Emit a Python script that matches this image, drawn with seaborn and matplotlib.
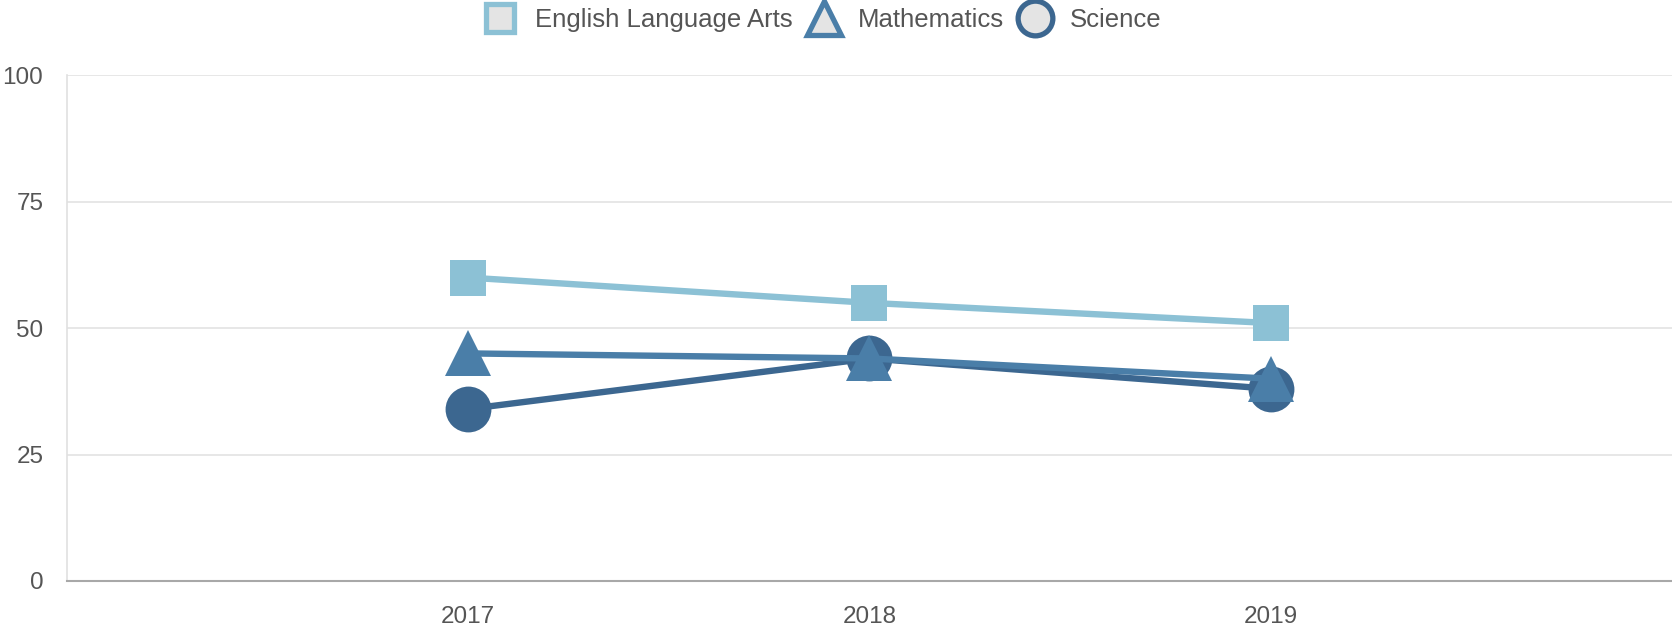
import pandas as pd
import matplotlib
matplotlib.use('Agg')
import matplotlib.pyplot as plt
import seaborn as sns
from matplotlib.lines import Line2D

# Data
years = ['2017', '2018', '2019']
ela = [60, 55, 51]
math = [45, 44, 40]
science = [34, 44, 38]

subjects = ['English Language Arts', 'Mathematics', 'Science']
colors = {'English Language Arts': '#8cc1d5',
          'Mathematics': '#4a7ea8',
          'Science': '#3c6790'}
markers = {'English Language Arts': 's', 'Mathematics': '^', 'Science': 'o'}
msizes = {'English Language Arts': 26, 'Mathematics': 33, 'Science': 33}
leg_sizes = {'English Language Arts': 20, 'Mathematics': 25, 'Science': 25}

df = pd.DataFrame({
    'year': years * 3,
    'subject': [s for s in subjects for _ in years],
    'score': ela + math + science,
})
df['pos'] = df['year'].map({y: i for i, y in enumerate(years)})

sns.set_style('white')
plt.rcParams['font.family'] = ['Liberation Sans', 'DejaVu Sans']

fig = plt.figure(figsize=(16.72, 6.28), dpi=100)
ax = fig.add_axes([0.040, 0.075, 0.960, 0.805])

# draw science first so the maths triangles sit on top, as in the reference
for subj, z in [('Science', 3), ('Mathematics', 4), ('English Language Arts', 5)]:
    sub = df[df['subject'] == subj]
    sns.lineplot(data=sub, x='pos', y='score', ax=ax, color=colors[subj],
                 linewidth=4.6, marker=markers[subj], markersize=msizes[subj],
                 markeredgewidth=0, zorder=z, legend=False)

ax.set_xlim(-1, 3)
ax.set_ylim(0, 100)
ax.set_xticks(range(len(years)))
ax.set_xticklabels(years)
ax.set_yticks([0, 25, 50, 75, 100])
ax.set_xlabel('')
ax.set_ylabel('')

ax.grid(axis='y', color='#e3e3e3', linewidth=1.2)
ax.grid(axis='x', visible=False)
for side in ['top', 'right']:
    ax.spines[side].set_visible(False)
ax.spines['left'].set_color('#e0e0e0')
ax.spines['left'].set_linewidth(1.2)
ax.spines['bottom'].set_color('#a8a8a8')
ax.spines['bottom'].set_linewidth(1.5)

ax.tick_params(axis='y', length=16, width=1.2, color='#e3e3e3', pad=1,
               labelsize=17.5, labelcolor='#555555')
ax.tick_params(axis='x', length=0, pad=18, labelsize=17.5, labelcolor='#555555')

handles = [Line2D([], [], linestyle='none', marker=markers[s], markersize=leg_sizes[s],
                  markerfacecolor='#e4e4e4', markeredgecolor=colors[s],
                  markeredgewidth=3.8, label=s) for s in subjects]
fig.legend(handles=handles, loc='upper center', bbox_to_anchor=(0.492, 1.024), ncol=3,
           frameon=False, fontsize=18.5, labelcolor='#555555', handletextpad=0.7,
           columnspacing=0.55, handlelength=1.3)

fig.savefig('out.png', dpi=100, facecolor='white')
